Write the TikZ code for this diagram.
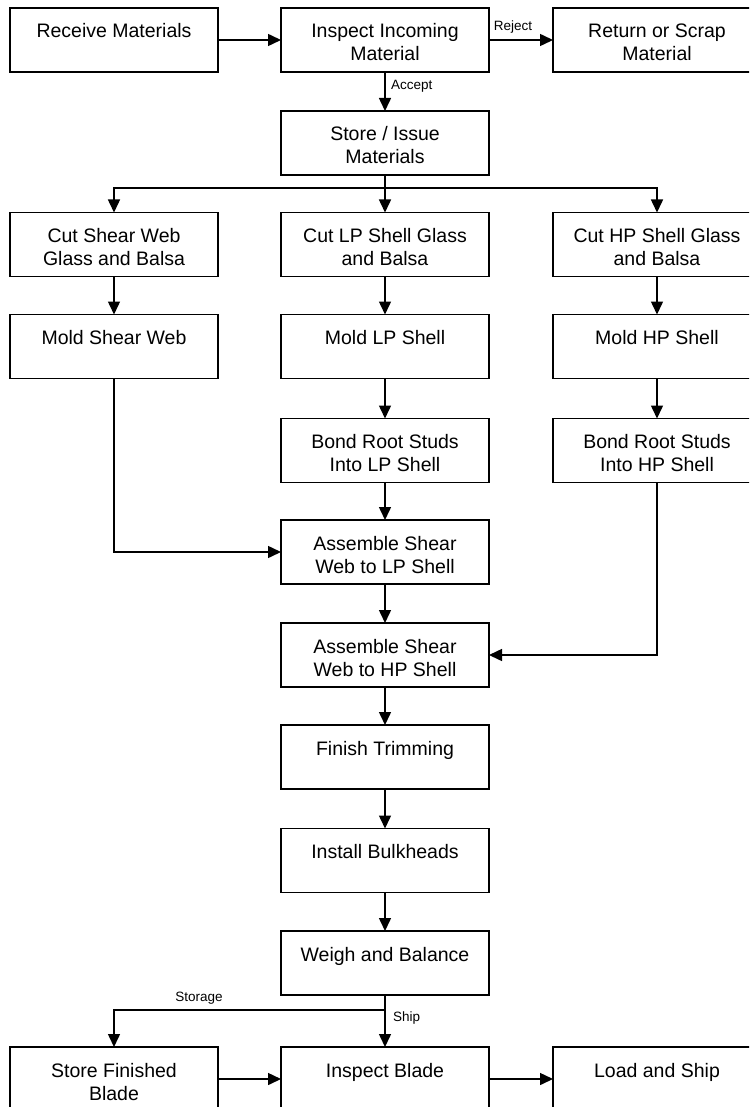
\documentclass[tikz,border=0pt]{standalone}
\usepackage{fontspec}
\setmainfont{Liberation Sans}
\usetikzlibrary{arrows.meta}
\newcommand\boxtext[1]{\parbox[c][64pt][t]{204pt}{\centering\fontsize{19.5pt}{23pt}\selectfont\rule{0pt}{30pt}#1\par}}
\tikzset{
  procbox/.style={draw, line width=1.5pt, minimum width=208pt, minimum height=64pt, inner sep=0pt, outer sep=0pt},
  flow/.style={line width=1.5pt, -{Triangle[length=13pt,width=12pt]}},
  plain/.style={line width=1.5pt},
  lbl/.style={font=\fontsize{13.5pt}{15pt}\selectfont, inner sep=0pt}
}
\begin{document}
\begin{tikzpicture}[x=1pt,y=-1pt]
\clip (0,0) rectangle (749,1107);
\fill[white] (0,0) rectangle (749,1107);
% row 1
\node[procbox] (recv) at (114,40) {\boxtext{Receive Materials}};
\node[procbox] (insp) at (385,40) {\boxtext{Inspect Incoming\\Material}};
\node[procbox] (ret) at (657,40) {\boxtext{Return or Scrap\\Material}};
\node[procbox] (store) at (385,143) {\boxtext{Store / Issue\\Materials}};
% cut row
\node[procbox] (cutL) at (114,244.5) {\boxtext{Cut Shear Web\\Glass and Balsa}};
\node[procbox] (cutC) at (385,244.5) {\boxtext{Cut LP Shell Glass\\and Balsa}};
\node[procbox] (cutR) at (657,244.5) {\boxtext{Cut HP Shell Glass\\and Balsa}};
% mold row
\node[procbox] (moldL) at (114,346.5) {\boxtext{Mold Shear Web}};
\node[procbox] (moldC) at (385,346.5) {\boxtext{Mold LP Shell}};
\node[procbox] (moldR) at (657,346.5) {\boxtext{Mold HP Shell}};
% bond row
\node[procbox] (bondC) at (385,450.5) {\boxtext{Bond Root Studs\\Into LP Shell}};
\node[procbox] (bondR) at (657,450.5) {\boxtext{Bond Root Studs\\Into HP Shell}};
% center column
\node[procbox] (asmLP) at (385,552) {\boxtext{Assemble Shear\\Web to LP Shell}};
\node[procbox] (asmHP) at (385,655) {\boxtext{Assemble Shear\\Web to HP Shell}};
\node[procbox] (finish) at (385,757) {\boxtext{Finish Trimming}};
\node[procbox] (bulk) at (385,860.5) {\boxtext{Install Bulkheads}};
\node[procbox] (weigh) at (385,963) {\boxtext{Weigh and Balance}};
% bottom row
\node[procbox] (storeB) at (114,1079) {\boxtext{Store Finished\\Blade}};
\node[procbox] (inspB) at (385,1079) {\boxtext{Inspect Blade}};
\node[procbox] (load) at (657,1079) {\boxtext{Load and Ship}};
% connectors
\draw[flow] (recv.east) -- (insp.west);
\draw[flow] (insp.east) -- (ret.west);
\node[lbl, anchor=south] (rej) at (513,33.5) {Reject};
\draw[flow] (insp.south) -- (store.north);
\node[lbl, anchor=west] (acc) at (391,86) {Accept};
\coordinate (br) at (385,188);
\draw[plain] (store.south) -- (br);
\draw[flow] (br) -| (cutL.north);
\draw[flow] (br) -| (cutR.north);
\draw[flow] (br) -- (cutC.north);
\draw[flow] (cutL.south) -- (moldL.north);
\draw[flow] (cutC.south) -- (moldC.north);
\draw[flow] (cutR.south) -- (moldR.north);
\draw[flow] (moldC.south) -- (bondC.north);
\draw[flow] (moldR.south) -- (bondR.north);
\draw[flow] (moldL.south) |- (asmLP.west);
\draw[flow] (bondC.south) -- (asmLP.north);
\draw[flow] (asmLP.south) -- (asmHP.north);
\draw[flow] (bondR.south) |- (asmHP.east);
\draw[flow] (asmHP.south) -- (finish.north);
\draw[flow] (finish.south) -- (bulk.north);
\draw[flow] (bulk.south) -- (weigh.north);
\coordinate (br2) at (385,1010);
\draw[flow] (weigh.south) -- (inspB.north);
\draw[flow] (br2) -| (storeB.north);
\node[lbl] (stor) at (199,998) {Storage};
\node[lbl, anchor=west] (ship) at (393,1018) {Ship};
\draw[flow] (storeB.east) -- (inspB.west);
\draw[flow] (inspB.east) -- (load.west);
\end{tikzpicture}
\end{document}
